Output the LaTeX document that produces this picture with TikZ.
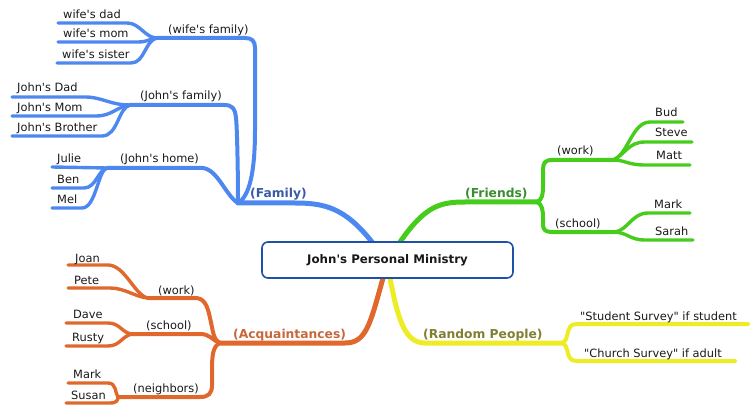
\documentclass[tikz,border=0pt]{standalone}
\usepackage{fontspec}
\newfontfamily\dv{DejaVu Sans}
\definecolor{famblue}{RGB}{77,136,240}
\definecolor{famtext}{RGB}{58,90,168}
\definecolor{frgreen}{RGB}{70,204,26}
\definecolor{frtext}{RGB}{58,140,48}
\definecolor{acqorange}{RGB}{224,104,44}
\definecolor{acqtext}{RGB}{200,102,60}
\definecolor{rndyellow}{RGB}{238,236,36}
\definecolor{rndtext}{RGB}{128,126,48}
\definecolor{boxblue}{RGB}{30,80,170}
\tikzset{
  leaf/.style={font=\dv\fontsize{11.4}{13}\selectfont, anchor=base west, inner sep=0pt, text=black!90},
  brlabel/.style={font=\dv\bfseries\fontsize{12.3}{14}\selectfont, anchor=base west, inner sep=0pt},
  mainline/.style={line width=5pt, line cap=round},
  subline/.style={line width=4pt, line cap=round},
  leafline/.style={line width=3.4pt, line cap=round},
}
\begin{document}
\begin{tikzpicture}[x=1pt,y=-1pt]
\useasboundingbox (0,0) rectangle (752,406);

% ---------- coordinates ----------
\coordinate (fam-top) at (372,242);
\coordinate (fr-top) at (400,242);
\coordinate (acq-bot) at (383,278);
\coordinate (rnd-bot) at (390,278);
\coordinate (famJ) at (238,203);
\coordinate (wfJ) at (157,38);
\coordinate (jfJ) at (130,105);
\coordinate (jhJ) at (107,168);
\coordinate (frJ) at (537,202);
\coordinate (fwJ) at (613,160);
\coordinate (fsJ) at (615,232);
\coordinate (acqJ) at (220,343);
\coordinate (awJ) at (148,298);
\coordinate (asJ) at (132,334);
\coordinate (anJ) at (118,397);
\coordinate (rndJ) at (563,343);

% leaf line ends
\coordinate (e-wd) at (58,23);
\coordinate (e-wm) at (58,42);
\coordinate (e-ws) at (57,63);
\coordinate (e-jd) at (12,97);
\coordinate (e-jm) at (12,116);
\coordinate (e-jb) at (12,136);
\coordinate (e-ju) at (52,167);
\coordinate (e-be) at (52,188);
\coordinate (e-me) at (52,208);
\coordinate (e-bu) at (683,122);
\coordinate (e-st) at (692,142);
\coordinate (e-ma) at (690,165);
\coordinate (e-mk) at (690,213);
\coordinate (e-sa) at (693,240);
\coordinate (e-jo) at (68,265);
\coordinate (e-pe) at (68,288);
\coordinate (e-da) at (66,323);
\coordinate (e-ru) at (66,346);
\coordinate (e-ak) at (68,383);
\coordinate (e-su) at (66,403);
\coordinate (e-ss) at (748,324);
\coordinate (e-cs) at (735,361);

% ---------- Family (blue) ----------
\begin{scope}[draw=famblue]
\draw[mainline] (fam-top) .. controls (345,208) and (325,203) .. (295,203) -- (famJ);
\draw[subline] (famJ) .. controls (250,196) and (255,170) .. (255,130) -- (255,48) .. controls (255,41) and (252,38) .. (245,38) -- (wfJ);
\draw[subline] (famJ) .. controls (238,170) and (237,125) .. (236,118) .. controls (235,108) and (232,105) .. (224,105) -- (jfJ);
\draw[subline] (famJ) .. controls (226,196) and (218,170) .. (203,168) -- (jhJ);
\draw[leafline] (wfJ) .. controls (145,38) and (140,23) .. (127,23) -- (e-wd);
\draw[leafline] (wfJ) .. controls (148,39) and (148,42) .. (138,42) -- (e-wm);
\draw[leafline] (wfJ) .. controls (145,40) and (145,63) .. (131,63) -- (e-ws);
\draw[leafline] (jfJ) .. controls (110,105) and (102,97) .. (85,97) -- (e-jd);
\draw[leafline] (jfJ) .. controls (116,107) and (112,116) .. (96,116) -- (e-jm);
\draw[leafline] (jfJ) .. controls (118,108) and (118,136) .. (102,136) -- (e-jb);
\draw[leafline] (jhJ) -- (e-ju);
\draw[leafline] (jhJ) .. controls (98,170) and (96,188) .. (84,188) -- (e-be);
\draw[leafline] (jhJ) .. controls (98,170) and (96,208) .. (82,208) -- (e-me);
\end{scope}

% ---------- Friends (green) ----------
\begin{scope}[draw=frgreen]
\draw[mainline] (fr-top) .. controls (425,206) and (440,202) .. (465,202) -- (frJ);
\draw[subline] (frJ) .. controls (542,200) and (543,195) .. (543,185) -- (543,170) .. controls (543,163) and (545,160) .. (552,160) -- (fwJ);
\draw[subline] (frJ) .. controls (542,204) and (543,210) .. (543,218) -- (543,225) .. controls (543,230) and (546,232) .. (552,232) -- (fsJ);
\draw[leafline] (fwJ) .. controls (628,155) and (632,122) .. (650,122) -- (e-bu);
\draw[leafline] (fwJ) .. controls (625,155) and (628,142) .. (645,142) -- (e-st);
\draw[leafline] (fwJ) .. controls (625,160) and (628,165) .. (645,165) -- (e-ma);
\draw[leafline] (fsJ) .. controls (628,230) and (632,213) .. (648,213) -- (e-mk);
\draw[leafline] (fsJ) .. controls (628,233) and (630,240) .. (645,240) -- (e-sa);
\end{scope}

% ---------- Acquaintances (orange) ----------
\begin{scope}[draw=acqorange]
\draw[mainline] (acq-bot) .. controls (370,325) and (366,343) .. (345,343) -- (acqJ);
\draw[subline] (acqJ) .. controls (213,340) and (213,330) .. (210,318) .. controls (207,303) and (203,298) .. (195,298) -- (awJ);
\draw[subline] (acqJ) .. controls (212,340) and (210,334) .. (200,334) -- (asJ);
\draw[subline] (acqJ) .. controls (213,346) and (212,355) .. (212,370) -- (212,385) .. controls (212,394) and (208,397) .. (200,397) -- (anJ);
\draw[leafline] (awJ) .. controls (135,296) and (125,265) .. (108,265) -- (e-jo);
\draw[leafline] (awJ) .. controls (135,297) and (125,288) .. (110,288) -- (e-pe);
\draw[leafline] (asJ) .. controls (122,333) and (120,323) .. (108,323) -- (e-da);
\draw[leafline] (asJ) .. controls (122,336) and (120,346) .. (108,346) -- (e-ru);
\draw[leafline] (anJ) .. controls (115,394) and (117,383) .. (108,383) -- (e-ak);
\draw[leafline] (anJ) .. controls (118,400) and (117,403) .. (110,403) -- (e-su);
\end{scope}

% ---------- Random People (yellow) ----------
\begin{scope}[draw=rndyellow]
\draw[mainline] (rnd-bot) .. controls (398,320) and (405,343) .. (425,343) -- (rndJ);
\draw[subline] (rndJ) .. controls (568,340) and (567,330) .. (570,327) .. controls (572,324) and (575,324) .. (582,324) -- (e-ss);
\draw[subline] (rndJ) .. controls (568,346) and (567,355) .. (570,358) .. controls (572,361) and (575,361) .. (582,361) -- (e-cs);
\end{scope}

% ---------- central box ----------
\node[draw=boxblue, line width=1.6pt, fill=white, rounded corners=6pt,
      minimum width=251pt, minimum height=36pt, inner sep=0pt,
      font=\dv\bfseries\fontsize{11.8}{13}\selectfont, text=black!90]
      (center) at (387.5,260) {John's Personal Ministry};

% ---------- branch labels ----------
\node[brlabel, text=famtext] (l-fam) at (250,198) {(Family)};
\node[brlabel, text=frtext] (l-fr) at (465,197) {(Friends)};
\node[brlabel, text=acqtext] (l-acq) at (233,338) {(Acquaintances)};
\node[brlabel, text=rndtext] (l-rnd) at (423,338) {(Random People)};

% ---------- sub labels ----------
\node[leaf] (l-wf) at (168,34) {(wife's family)};
\node[leaf] (l-jf) at (140,100) {(John's family)};
\node[leaf] (l-jh) at (120,163) {(John's home)};
\node[leaf] (l-fw) at (557,155) {(work)};
\node[leaf] (l-fs) at (555,227) {(school)};
\node[leaf] (l-aw) at (158,294) {(work)};
\node[leaf] (l-as) at (146,329) {(school)};
\node[leaf] (l-an) at (133,392) {(neighbors)};

% ---------- leaves ----------
\node[leaf] (t-wd) at (63,19) {wife's dad};
\node[leaf] (t-wm) at (63,38) {wife's mom};
\node[leaf] (t-ws) at (62,59) {wife's sister};
\node[leaf] (t-jd) at (17,92) {John's Dad};
\node[leaf] (t-jm) at (17,112) {John's Mom};
\node[leaf] (t-jb) at (17,132) {John's Brother};
\node[leaf] (t-ju) at (57,163) {Julie};
\node[leaf] (t-be) at (57,184) {Ben};
\node[leaf] (t-me) at (57,204) {Mel};
\node[leaf] (t-bu) at (655,117) {Bud};
\node[leaf] (t-st) at (655,137) {Steve};
\node[leaf] (t-ma) at (656,160) {Matt};
\node[leaf] (t-mk) at (654,208) {Mark};
\node[leaf] (t-sa) at (655,235) {Sarah};
\node[leaf] (t-jo) at (75,262) {Joan};
\node[leaf] (t-pe) at (74,284) {Pete};
\node[leaf] (t-da) at (73,318) {Dave};
\node[leaf] (t-ru) at (72,341) {Rusty};
\node[leaf] (t-ak) at (73,378) {Mark};
\node[leaf] (t-su) at (71,399) {Susan};
\node[leaf] (t-ss) at (580,320) {"Student Survey" if student};
\node[leaf] (t-cs) at (584,357) {"Church Survey" if adult};
\end{tikzpicture}
\end{document}
